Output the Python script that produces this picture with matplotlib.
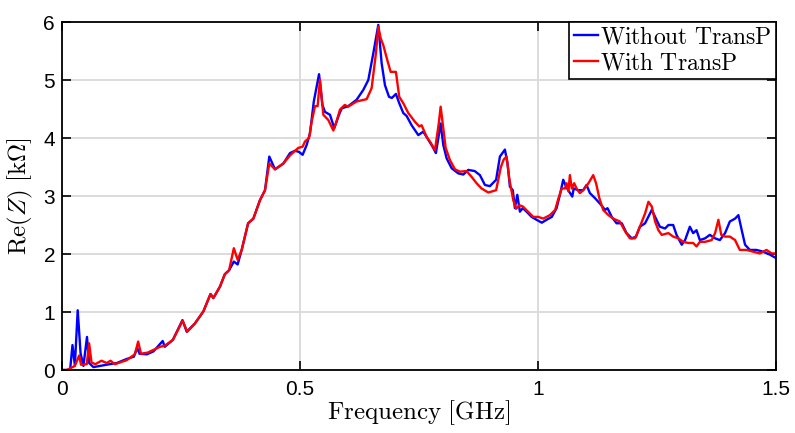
import matplotlib
matplotlib.use("Agg")
import matplotlib.pyplot as plt
import numpy as np

plt.rcParams['mathtext.fontset'] = 'cm'
plt.rcParams['font.family'] = ['Liberation Sans', 'DejaVu Sans']

# Frequency [GHz] and Re(Z) [kOhm]
f_without = [0.0, 0.017, 0.022, 0.027, 0.033, 0.039, 0.045, 0.0525, 0.057, 0.066, 0.086, 0.10, 0.115,
             0.136, 0.151, 0.158, 0.163, 0.178, 0.192, 0.2115, 0.216, 0.233, 0.253, 0.262, 0.279,
             0.297, 0.312, 0.318, 0.332, 0.342, 0.351, 0.361, 0.369, 0.3775, 0.391, 0.402, 0.416,
             0.4265, 0.4355, 0.4475, 0.465, 0.479, 0.4895, 0.498, 0.5055, 0.514, 0.521, 0.529, 0.540,
             0.547, 0.5525, 0.563, 0.572, 0.5805, 0.5875, 0.6015, 0.619, 0.633, 0.6435, 0.654, 0.6645,
             0.6715, 0.6785, 0.687, 0.693, 0.7015, 0.7085, 0.717, 0.724, 0.7345, 0.7485, 0.759, 0.7695,
             0.7785, 0.7855, 0.7955, 0.801, 0.808, 0.8185, 0.8325, 0.843, 0.8535, 0.867, 0.878, 0.8885,
             0.899, 0.912, 0.920, 0.9305, 0.936, 0.941, 0.947, 0.9515, 0.9565, 0.962, 0.968, 0.976,
             0.9865, 0.997, 1.008, 1.018, 1.029, 1.039, 1.046, 1.053, 1.059, 1.065, 1.072, 1.075, 1.084,
             1.095, 1.102, 1.109, 1.12, 1.13, 1.141, 1.146, 1.155, 1.165, 1.176, 1.186, 1.197, 1.206,
             1.214, 1.225, 1.239, 1.246, 1.256, 1.267, 1.274, 1.284, 1.291, 1.302, 1.309, 1.319, 1.326,
             1.333, 1.340, 1.351, 1.361, 1.372, 1.382, 1.393, 1.403, 1.414, 1.421, 1.428, 1.435, 1.445,
             1.459, 1.473, 1.487, 1.5]
z_without = [0.0, 0.0, 0.43, 0.08, 1.03, 0.29, 0.07, 0.57, 0.12, 0.05, 0.08, 0.10, 0.12,
             0.19, 0.23, 0.38, 0.28, 0.27, 0.32, 0.50, 0.40, 0.52, 0.86, 0.66, 0.80,
             1.01, 1.31, 1.24, 1.44, 1.65, 1.72, 1.87, 1.82, 2.07, 2.53, 2.61, 2.93,
             3.10, 3.68, 3.46, 3.56, 3.74, 3.78, 3.76, 3.71, 3.88, 4.08, 4.63, 5.10,
             4.57, 4.45, 4.40, 4.17, 4.37, 4.51, 4.55, 4.66, 4.83, 5.0, 5.46, 5.95,
             5.29, 4.91, 4.71, 4.69, 4.76, 4.60, 4.43, 4.38, 4.22, 4.05, 4.11, 3.97,
             3.85, 3.74, 4.25, 3.88, 3.65, 3.48, 3.39, 3.37, 3.45, 3.43, 3.36, 3.19,
             3.17, 3.28, 3.68, 3.80, 3.56, 3.16, 3.10, 2.79, 3.02, 2.73, 2.79, 2.73,
             2.64, 2.59, 2.54, 2.59, 2.64, 2.79, 3.02, 3.28, 3.16, 3.08, 2.99, 3.13, 3.10,
             3.10, 3.19, 3.05, 2.96, 2.87, 2.76, 2.79, 2.64, 2.53, 2.53, 2.36, 2.27, 2.30,
             2.47, 2.53, 2.76, 2.64, 2.47, 2.44, 2.50, 2.50, 2.33, 2.16, 2.24, 2.47, 2.36,
             2.41, 2.24, 2.27, 2.33, 2.27, 2.24, 2.36, 2.56, 2.61, 2.67, 2.41, 2.16, 2.07,
             2.07, 2.04, 1.99, 1.93]

f_with = [0.0, 0.01, 0.027, 0.036, 0.040, 0.052, 0.057, 0.062, 0.070, 0.083, 0.094, 0.102, 0.111,
          0.136, 0.153, 0.160, 0.166, 0.180, 0.206, 0.216, 0.233, 0.2535, 0.263, 0.279, 0.297,
          0.312, 0.318, 0.332, 0.342, 0.351, 0.361, 0.369, 0.3775, 0.391, 0.402, 0.416, 0.4265,
          0.4355, 0.4475, 0.465, 0.479, 0.4965, 0.5055, 0.5105, 0.519, 0.5245, 0.5315, 0.537, 0.542,
          0.549, 0.5595, 0.570, 0.577, 0.584, 0.594, 0.601, 0.619, 0.640, 0.6505, 0.6595, 0.6645,
          0.6695, 0.675, 0.6835, 0.6905, 0.7015, 0.7085, 0.717, 0.7275, 0.7415, 0.7505, 0.7555,
          0.766, 0.7745, 0.7835, 0.7915, 0.7955, 0.801, 0.806, 0.815, 0.8255, 0.836, 0.85, 0.8605,
          0.871, 0.8815, 0.8955, 0.912, 0.922, 0.928, 0.934, 0.940, 0.948, 0.954, 0.961, 0.968,
          0.979, 0.99, 1.0005, 1.011, 1.025, 1.036, 1.043, 1.05, 1.057, 1.060, 1.064, 1.067, 1.071,
          1.076, 1.081, 1.088, 1.095, 1.106, 1.116, 1.122, 1.129, 1.137, 1.148, 1.158, 1.172, 1.183,
          1.193, 1.204, 1.214, 1.225, 1.232, 1.239, 1.246, 1.253, 1.26, 1.274, 1.284, 1.295, 1.305,
          1.316, 1.326, 1.333, 1.340, 1.351, 1.365, 1.372, 1.379, 1.385, 1.393, 1.403, 1.414, 1.424,
          1.438, 1.452, 1.466, 1.48, 1.491, 1.5]
z_with = [0.0, 0.0, 0.07, 0.25, 0.09, 0.10, 0.46, 0.13, 0.10, 0.16, 0.12, 0.16, 0.10,
          0.17, 0.27, 0.49, 0.28, 0.30, 0.40, 0.42, 0.52, 0.85, 0.66, 0.80, 1.01,
          1.31, 1.24, 1.44, 1.65, 1.72, 2.10, 1.90, 2.07, 2.53, 2.61, 2.93, 3.10,
          3.56, 3.46, 3.56, 3.70, 3.83, 3.85, 3.94, 4.00, 4.28, 4.55, 4.55, 5.01,
          4.40, 4.31, 4.13, 4.29, 4.49, 4.57, 4.54, 4.63, 4.67, 4.86, 5.46, 5.92,
          5.72, 5.60, 5.34, 5.14, 5.14, 4.71, 4.60, 4.43, 4.28, 4.20, 4.22,
          4.02, 3.92, 3.79, 4.25, 4.54, 4.17, 3.83, 3.62, 3.46, 3.42, 3.43, 3.33,
          3.22, 3.13, 3.06, 3.10, 3.50, 3.63, 3.68, 3.28, 2.93, 2.78, 2.84, 2.82,
          2.73, 2.64, 2.64, 2.61, 2.67, 2.76, 2.96, 3.13, 3.13, 3.22, 3.08, 3.36, 3.13,
          3.22, 3.13, 3.05, 3.10, 3.22, 3.36, 3.22, 2.96, 2.76, 2.67, 2.61, 2.56, 2.39,
          2.27, 2.27, 2.47, 2.70, 2.90, 2.82, 2.56, 2.41, 2.33, 2.36, 2.30, 2.27, 2.21,
          2.19, 2.19, 2.13, 2.21, 2.21, 2.24, 2.36, 2.59, 2.33, 2.30, 2.30, 2.24, 2.07,
          2.07, 2.04, 2.01, 2.07, 2.01, 2.01]

x_ticks = [0, 0.5, 1, 1.5]
x_ticklabels = ['0', '0.5', '1', '1.5']
y_ticks = [0, 1, 2, 3, 4, 5, 6]

fig = plt.figure(figsize=(7.95, 4.33), dpi=100)
ax = fig.add_axes([62/795, 1-370/433, 714/795, 348/433])

ax.plot(f_without, z_without, color='#0000FF', lw=1.7, label=r'$\mathrm{Without\ TransP}$')
ax.plot(f_with, z_with, color='#FF0000', lw=1.7, label=r'$\mathrm{With\ TransP}$')

ax.set_xlim(0, 1.5)
ax.set_ylim(0, 6)
ax.set_xticks(x_ticks)
ax.set_xticklabels(x_ticklabels)
ax.set_yticks(y_ticks)
ax.tick_params(direction='in', top=True, right=True, labelsize=15, length=6.5, width=1.2)
ax.tick_params(axis='x', pad=7)
ax.tick_params(axis='y', pad=5)
ax.grid(True, color='#d9d9d9', lw=1.3)
ax.set_axisbelow(True)
for s in ax.spines.values():
    s.set_linewidth(1.3)

ax.set_xlabel(r'$\mathrm{Frequency\ [GHz]}$', fontsize=18, labelpad=0)
ax.set_ylabel(r'$\mathrm{Re}(Z)\ \mathrm{[k\Omega]}$', fontsize=18, labelpad=6)

leg = ax.legend(loc='upper right', fontsize=17, handlelength=1.0, handletextpad=0.1,
                borderpad=0.2, borderaxespad=0, labelspacing=0.15, fancybox=False, framealpha=1)
leg.get_frame().set_edgecolor('black')
leg.get_frame().set_linewidth(1.2)

fig.savefig('out.png', dpi=100)
